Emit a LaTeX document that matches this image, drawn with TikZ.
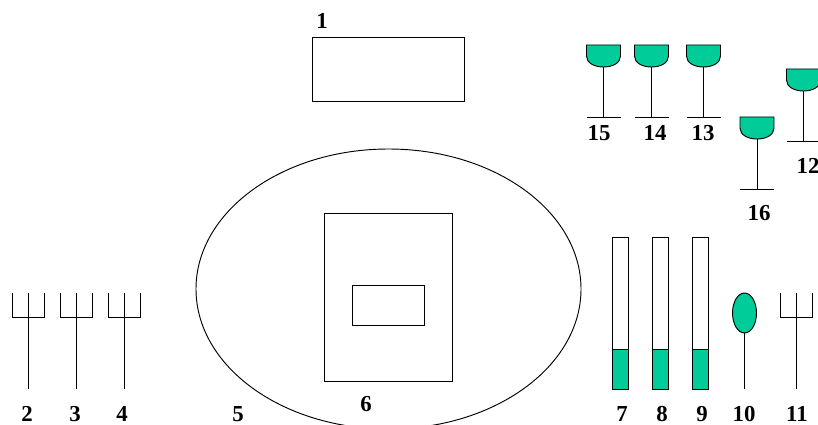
\documentclass[tikz,border=0pt]{standalone}
\usepackage{fontspec}
\setmainfont{Liberation Serif}
\usetikzlibrary{shapes.geometric}
\definecolor{wine}{HTML}{00CC99}
\tikzset{
  line node/.style={draw,line width=0.8pt,inner sep=0pt,outer sep=0pt},
  num node/.style={font=\bfseries\fontsize{19.5}{20}\selectfont,inner sep=0pt},
  box node/.style={line node,rectangle},
  pics/forkset/.style={code={
    \draw[line width=0.8pt] (-16,-24) -- (-16,0) -- (16,0) -- (16,-24);
    \draw[line width=0.8pt] (0,-24) -- (0,72);
  }},
  pics/glassset/.style={code={
    \draw[line width=0.8pt,fill=wine] (-17,0) -- (-17,11) .. controls (-17,18) and (-9,22) .. (0,22) .. controls (9,22) and (17,18) .. (17,11) -- (17,0) -- cycle;
    \draw[line width=0.8pt] (0,22) -- (0,#1);
    \draw[line width=0.8pt] (-17,#1) -- (17,#1);
  }}
}
\begin{document}
\begin{tikzpicture}[x=0.03cm,y=-0.03cm]
  \useasboundingbox (0,0) rectangle (818,425);
  \clip (0,0) rectangle (818,425);

  % table
  \node[box node,minimum width=152*0.03cm,minimum height=64.5*0.03cm] at (388,69.5) (card) {};
  \node[line node,ellipse,minimum width=385*0.03cm,minimum height=280*0.03cm] at (388.5,289) (plate) {};
  \node[box node,minimum width=128*0.03cm,minimum height=168*0.03cm] at (388.3,297) (mat) {};
  \node[box node,minimum width=72*0.03cm,minimum height=40.5*0.03cm] at (388.3,305.5) (dish) {};

  % forks
  \pic at (28,317) {forkset};
  \pic at (76,317) {forkset};
  \pic at (124,317) {forkset};
  \pic at (796,317) {forkset};

  % knives
  \foreach \x/\n in {620.5/knifea,660.5/knifeb,700.5/knifec}{
    \fill[wine] (\x-8,349) rectangle (\x+8,389);
    \draw[line width=0.8pt] (\x-8,349) -- (\x+8,349);
    \node[box node,minimum width=16*0.03cm,minimum height=152*0.03cm] at (\x,313) (\n) {};
  }

  % spoon
  \node[line node,ellipse,fill=wine,minimum width=24*0.03cm,minimum height=40*0.03cm] at (744.5,313) (spoon) {};
  \coordinate (spoonend) at (744.5,389);
  \draw[line width=0.8pt] (spoon) -- (spoonend);

  % glasses
  \pic at (603.5,45) {glassset=72};
  \pic at (651.5,45) {glassset=72};
  \pic at (703.5,45) {glassset=72};
  \pic at (803.5,69) {glassset=72};
  \pic at (757,117) {glassset=72};

  % numbers
  \node[num node] at (322,21) (n1) {1};
  \node[num node] at (27,414) (n2) {2};
  \node[num node] at (75,414) (n3) {3};
  \node[num node] at (122,414) (n4) {4};
  \node[num node] at (238,414) (n5) {5};
  \node[num node] at (366,404) (n6) {6};
  \node[num node] at (622,414) (n7) {7};
  \node[num node] at (662,414) (n8) {8};
  \node[num node] at (702,414) (n9) {9};
  \node[num node] at (744,414) (n10) {10};
  \node[num node] at (797,414) (n11) {11};
  \node[num node] at (808,166) (n12) {12};
  \node[num node] at (703,133) (n13) {13};
  \node[num node] at (655,133) (n14) {14};
  \node[num node] at (599,133) (n15) {15};
  \node[num node] at (759,213) (n16) {16};
\end{tikzpicture}
\end{document}
